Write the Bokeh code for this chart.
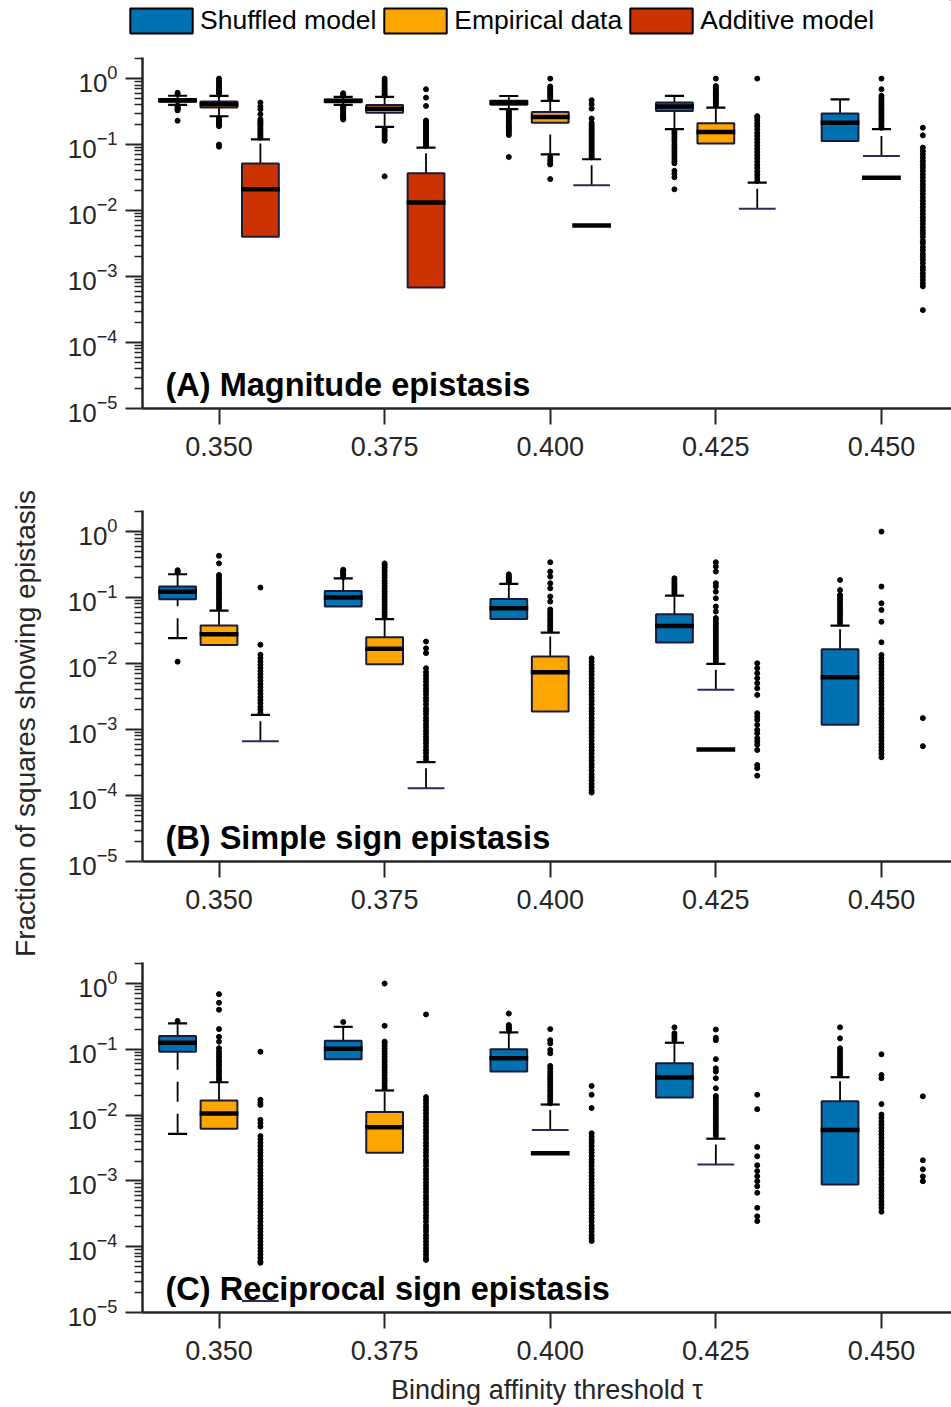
import math
from bokeh.plotting import figure
from bokeh.models import ColumnDataSource, FixedTicker, Range1d, Label, Legend, LegendItem
from bokeh.layouts import column, row
from bokeh.embed import file_html
from bokeh.resources import INLINE

# ---------------- data ----------------
thresholds = ["0.350", "0.375", "0.400", "0.425", "0.450"]
series_names = ["Shuffled model", "Empirical data", "Additive model"]
series_colors = ["#0072B2", "#FFA500", "#CC3300"]
panel_titles = ["(A) Magnitude epistasis", "(B) Simple sign epistasis", "(C) Reciprocal sign epistasis"]

# Panel A (magnitude epistasis); 0 = value is zero (not drawable on log axis)
A_shuf_lo = [0.40, 0.40, 0.345, 0.171, 0.113]
A_shuf_q1 = [0.445, 0.44, 0.40, 0.324, 0.113]
A_shuf_med = [0.47, 0.46, 0.435, 0.377, 0.215]
A_shuf_q3 = [0.49, 0.48, 0.46, 0.433, 0.295]
A_shuf_hi = [0.55, 0.53, 0.545, 0.546, 0.486]
A_shuf_out = [
    [0.58, 0.61, 0.39, 0.375, 0.36, 0.35, 0.34, 0.33, 0.23],
    [0.56, 0.585, 0.60, 0.38, 0.365, 0.35, 0.335, 0.32, 0.305, 0.29, 0.28, 0.27, 0.26, 0.25, 0.24],
    [0.33, 0.31, 0.29, 0.275, 0.26, 0.245, 0.23, 0.215, 0.2, 0.19, 0.18, 0.17, 0.16, 0.15, 0.14, 0.065],
    [0.16, 0.15, 0.14, 0.13, 0.12, 0.11, 0.10, 0.092, 0.085, 0.078, 0.072, 0.066, 0.061, 0.056, 0.052,
     0.040, 0.036, 0.032, 0.021],
    [],
]
A_emp_lo = [0.269, 0.185, 0.071, 0.104, 0]
A_emp_q1 = [0.364, 0.305, 0.215, 0.104, 0]
A_emp_med = [0.41, 0.35, 0.262, 0.155, 0.0313]
A_emp_q3 = [0.449, 0.399, 0.312, 0.211, 0.067]
A_emp_hi = [0.546, 0.527, 0.459, 0.364, 0.171]
A_emp_out = [
    [1.0, 0.92, 0.86, 0.81, 0.76, 0.71, 0.67, 0.63, 0.6, 0.25, 0.24, 0.23, 0.22, 0.21, 0.2, 0.19, 0.1, 0.093],
    [1.0, 0.93, 0.87, 0.81, 0.76, 0.71, 0.66, 0.62, 0.58, 0.55, 0.17, 0.16, 0.15, 0.14, 0.13, 0.12, 0.114, 0.033],
    [1.0, 0.76, 0.72, 0.68, 0.64, 0.6, 0.57, 0.54, 0.5, 0.064, 0.058, 0.053, 0.05, 0.030],
    [1.0, 0.77, 0.73, 0.69, 0.65, 0.61, 0.58, 0.55, 0.52, 0.49, 0.46, 0.44, 0.415, 0.39],
    [1.0, 0.69, 0.55, 0.51, 0.47, 0.44, 0.41, 0.38, 0.35, 0.33, 0.31, 0.29, 0.27, 0.25, 0.235, 0.22,
     0.205, 0.19, 0.18],
]
A_add_lo = [0.004, 0.00068, 0, 0, 0]
A_add_q1 = [0.004, 0.00068, 0, 0, 0]
A_add_med = [0.021, 0.0132, 0.00593, 0, 0]
A_add_q3 = [0.0515, 0.0368, 0.0242, 0.0107, 0]
A_add_hi = [0.12, 0.090, 0.060, 0.0266, 0]
A_add_out = [
    [0.127, 0.134, 0.142, 0.15, 0.159, 0.168, 0.178, 0.19, 0.2, 0.21, 0.22, 0.23, 0.242, 0.288, 0.343,
     0.377, 0.433],
    [0.095, 0.1, 0.106, 0.112, 0.119, 0.126, 0.134, 0.142, 0.15, 0.159, 0.168, 0.178, 0.19, 0.2, 0.21,
     0.22, 0.232, 0.385, 0.515, 0.69],
    [0.064, 0.068, 0.072, 0.077, 0.082, 0.087, 0.093, 0.099, 0.106, 0.113, 0.12, 0.128, 0.136, 0.145,
     0.155, 0.165, 0.176, 0.188, 0.2, 0.215, 0.248, 0.351, 0.41, 0.47],
    [0.028, 0.0315, 0.035, 0.039, 0.044, 0.049, 0.055, 0.062, 0.069, 0.077, 0.086, 0.096, 0.108, 0.12,
     0.135, 0.15, 0.17, 0.19, 0.21, 0.235, 0.26, 0.27, 1.0],
    [0.18, 0.138, 0.09, 0.08, 0.071, 0.063, 0.056, 0.05, 0.045, 0.04, 0.0355, 0.0316, 0.028, 0.025,
     0.0224, 0.02, 0.0178, 0.0158, 0.0141, 0.0126, 0.0112, 0.01, 0.0089, 0.0079, 0.0071, 0.0063, 0.0056,
     0.005, 0.0045, 0.004, 0.0035, 0.0032, 0.0028, 0.0025, 0.0022, 0.002, 0.0018, 0.0016, 0.0014,
     0.00126, 0.00112, 0.001, 0.00089, 0.00079, 0.00071, 0.00031],
]

# Panel B (simple sign epistasis)
B_shuf_lo = [0.0243, 0.073, 0.0475, 0.0209, 0.00118]
B_shuf_q1 = [0.094, 0.073, 0.0475, 0.0209, 0.00118]
B_shuf_med = [0.123, 0.1, 0.0688, 0.0372, 0.0062]
B_shuf_q3 = [0.147, 0.126, 0.0955, 0.056, 0.0165]
B_shuf_hi = [0.226, 0.196, 0.161, 0.107, 0.0377]
B_shuf_out = [
    [0.24, 0.25, 0.26, 0.0107],
    [0.205, 0.215, 0.225, 0.235, 0.245, 0.255, 0.265],
    [0.17, 0.18, 0.19, 0.2, 0.21, 0.225],
    [0.116, 0.124, 0.132, 0.14, 0.15, 0.16, 0.17, 0.183, 0.196],
    [0.041, 0.045, 0.05, 0.055, 0.06, 0.066, 0.072, 0.079, 0.087, 0.095, 0.104, 0.11, 0.13, 0.185],
]
B_emp_lo = [0.0192, 0.0098, 0.00187, 0, 0]
B_emp_q1 = [0.0192, 0.0098, 0.00187, 0, 0]
B_emp_med = [0.0278, 0.0167, 0.0074, 0.000498, 0]
B_emp_q3 = [0.0377, 0.0251, 0.0128, 0.0040, 0]
B_emp_hi = [0.0636, 0.047, 0.0295, 0.0099, 0]
B_emp_out = [
    [0.069, 0.075, 0.082, 0.09, 0.098, 0.107, 0.117, 0.128, 0.14, 0.153, 0.167, 0.183, 0.2, 0.22, 0.33, 0.43],
    [0.05, 0.055, 0.06, 0.066, 0.072, 0.079, 0.087, 0.095, 0.104, 0.114, 0.125, 0.137, 0.15, 0.165, 0.18,
     0.2, 0.22, 0.24, 0.26, 0.285, 0.31, 0.33],
    [0.032, 0.035, 0.038, 0.042, 0.046, 0.05, 0.055, 0.06, 0.066, 0.087, 0.104, 0.138, 0.165, 0.208,
     0.248, 0.343],
    [0.0107, 0.0117, 0.0128, 0.014, 0.0153, 0.0167, 0.0183, 0.02, 0.022, 0.024, 0.0262, 0.0287, 0.0314,
     0.0343, 0.0375, 0.041, 0.045, 0.049, 0.0614, 0.0731, 0.0976, 0.123, 0.147, 0.165, 0.248, 0.295, 0.343],
    [1.0, 0.147, 0.082, 0.065, 0.043, 0.021, 0.0135, 0.012, 0.0107, 0.0095, 0.0085, 0.0076, 0.0068, 0.006,
     0.0054, 0.0048, 0.0043, 0.0038, 0.0034, 0.003, 0.0027, 0.0024, 0.0021, 0.0019, 0.0017, 0.0015,
     0.00135, 0.0012, 0.00107, 0.00095, 0.00085, 0.00076, 0.00068, 0.0006, 0.00054, 0.00048, 0.00043,
     0.00038],
]
B_add_lo = [0, 0, 0, 0, 0]
B_add_q1 = [0, 0, 0, 0, 0]
B_add_med = [0, 0, 0, 0, 0]
B_add_q3 = [0.000665, 0.000129, 0, 0, 0]
B_add_hi = [0.00167, 0.00032, 0, 0, 0]
B_add_out = [
    [0.00178, 0.002, 0.0022, 0.0025, 0.0028, 0.0031, 0.0035, 0.0039, 0.0044, 0.0049, 0.0055, 0.0062,
     0.0069, 0.0077, 0.0086, 0.0096, 0.0108, 0.0121, 0.0136, 0.0193, 0.142],
    [0.00035, 0.00039, 0.00044, 0.00049, 0.00055, 0.00062, 0.00069, 0.00077, 0.00086, 0.00096, 0.00108,
     0.0012, 0.00135, 0.0015, 0.0017, 0.0019, 0.0021, 0.0024, 0.0027, 0.003, 0.0034, 0.0038, 0.0042,
     0.0047, 0.0053, 0.0059, 0.0066, 0.0074, 0.0085, 0.0144, 0.017, 0.0216],
    [0.012, 0.0107, 0.0095, 0.0085, 0.0076, 0.0068, 0.006, 0.0054, 0.0048, 0.0043, 0.0038, 0.0034, 0.003,
     0.0027, 0.0024, 0.0021, 0.0019, 0.0017, 0.0015, 0.00135, 0.0012, 0.00107, 0.00095, 0.00085, 0.00076,
     0.00068, 0.0006, 0.00054, 0.00048, 0.00043, 0.00038, 0.00034, 0.0003, 0.00027, 0.00024, 0.00021,
     0.00019, 0.00017, 0.00015, 0.000135, 0.00012, 0.000111],
    [0.0101, 0.0085, 0.00714, 0.006, 0.00504, 0.00423, 0.00335, 0.00177, 0.00157, 0.0014, 0.00118,
     0.00099, 0.00088, 0.00074, 0.00066, 0.00059, 0.00049, 0.00029, 0.00026, 0.0002],
    [0.00149, 0.00056],
]

# Panel C (reciprocal sign epistasis)
C_shuf_lo = [0.0052, 0.0707, 0.0459, 0.0186, 0.00088]
C_shuf_q1 = [0.092, 0.0707, 0.0459, 0.0186, 0.00088]
C_shuf_med = [0.126, 0.102, 0.073, 0.0372, 0.00593]
C_shuf_q3 = [0.159, 0.135, 0.1, 0.0612, 0.0162]
C_shuf_hi = [0.248, 0.22, 0.181, 0.126, 0.0377]
C_shuf_out = [
    [0.27],
    [0.26],
    [0.19, 0.2, 0.21, 0.22, 0.235, 0.35],
    [0.139, 0.15, 0.162, 0.175, 0.216],
    [0.041, 0.045, 0.049, 0.054, 0.059, 0.065, 0.071, 0.078, 0.086, 0.094, 0.104, 0.147, 0.216],
]
C_emp_lo = [0.0062, 0.00267, 0, 0, 0]
C_emp_q1 = [0.0062, 0.00267, 0, 0, 0]
C_emp_med = [0.0106, 0.00652, 0.00263, 0, 0]
C_emp_q3 = [0.0167, 0.0112, 0.00593, 0.00177, 0]
C_emp_hi = [0.0316, 0.0237, 0.0145, 0.00438, 0]
C_emp_out = [
    [0.0335, 0.0365, 0.04, 0.044, 0.048, 0.053, 0.058, 0.064, 0.07, 0.077, 0.085, 0.093, 0.104, 0.131,
     0.155, 0.203, 0.40, 0.51, 0.69],
    [0.0257, 0.028, 0.031, 0.034, 0.037, 0.041, 0.045, 0.049, 0.054, 0.059, 0.065, 0.071, 0.078, 0.086,
     0.094, 0.103, 0.113, 0.124, 0.131, 0.228, 1.0],
    [0.0152, 0.0167, 0.0183, 0.02, 0.022, 0.024, 0.0265, 0.029, 0.032, 0.035, 0.038, 0.042, 0.046, 0.051,
     0.056, 0.087, 0.098, 0.123, 0.138, 0.203],
    [0.0048, 0.0053, 0.0058, 0.0064, 0.007, 0.0077, 0.0085, 0.0093, 0.0102, 0.0112, 0.0123, 0.0135,
     0.0148, 0.0163, 0.018, 0.0195, 0.0256, 0.0364, 0.0459, 0.0514, 0.071, 0.138, 0.15, 0.2],
    [0.0839, 0.0408, 0.0364, 0.0147, 0.0102, 0.0091, 0.0081, 0.0072, 0.0064, 0.0057, 0.0051, 0.0045,
     0.004, 0.0036, 0.0032, 0.0028, 0.0025, 0.0022, 0.002, 0.0018, 0.0016, 0.0014, 0.00125, 0.0011, 0.001,
     0.00089, 0.00079, 0.0007, 0.00062, 0.00055, 0.00049, 0.00044, 0.00039, 0.00034],
]
C_add_lo = [0, 0, 0, 0, 0]
C_add_q1 = [0, 0, 0, 0, 0]
C_add_med = [0, 0, 0, 0, 0]
C_add_q3 = [1.5e-5, 0, 0, 0, 0]
C_add_hi = [1.5e-5, 0, 0, 0, 0]
C_add_out = [
    [0.092, 0.0171, 0.0155, 0.0143, 0.0085, 0.0076, 0.0067, 0.0048, 0.0043, 0.0038, 0.0034, 0.003,
     0.0027, 0.0024, 0.0021, 0.0019, 0.0017, 0.0015, 0.00135, 0.0012, 0.00107, 0.00095, 0.00085, 0.00076,
     0.00068, 0.0006, 0.00054, 0.00048, 0.00043, 0.00038, 0.00034, 0.0003, 0.00027, 0.00024, 0.00021,
     0.00019, 0.00017, 0.00015, 0.000135, 0.00012, 0.000107, 0.000095, 0.000085, 0.000076, 0.000068,
     0.00006, 0.000057],
    [0.339, 0.0188, 0.0168, 0.015, 0.0134, 0.012, 0.0107, 0.0095, 0.0085, 0.0076, 0.0068, 0.006, 0.0054,
     0.0048, 0.0043, 0.0038, 0.0034, 0.003, 0.0027, 0.0024, 0.0021, 0.0019, 0.0017, 0.0015, 0.00135,
     0.0012, 0.00107, 0.00095, 0.00085, 0.00076, 0.00068, 0.0006, 0.00054, 0.00048, 0.00043, 0.00038,
     0.00034, 0.0003, 0.00027, 0.00024, 0.00021, 0.00019, 0.00017, 0.00015, 0.000135, 0.00012, 0.000107,
     0.000095, 0.000085, 0.000076, 0.000068, 0.000063],
    [0.0278, 0.0204, 0.0128, 0.0053, 0.0047, 0.0042, 0.0038, 0.0034, 0.003, 0.0027, 0.0024, 0.0021,
     0.0019, 0.0017, 0.0015, 0.00135, 0.0012, 0.00107, 0.00095, 0.00085, 0.00076, 0.00068, 0.0006,
     0.00054, 0.00048, 0.00043, 0.00038, 0.00034, 0.0003, 0.00027, 0.00024, 0.00021, 0.00019, 0.00017,
     0.00015, 0.000135, 0.000122],
    [0.0204, 0.0123, 0.00327, 0.00237, 0.00173, 0.00141, 0.00118, 0.00099, 0.00083, 0.00066, 0.00039,
     0.00029, 0.000245],
    [0.0193, 0.00206, 0.0015, 0.00117, 0.00099],
]

# ---------------- style ----------------
FONT = "Liberation Sans"
AX = "#262626"
EDGE = "#1a1a3a"
BW = 0.222      # box width (category units)
CW = 0.115      # whisker cap width
OFFS = [-0.25, 0.0, 0.25]
Y_BOT, Y_TOP = 1e-5, 10 ** 0.32
X_LO, X_HI = -0.462, 4.423
LW = 50          # width of the strip holding the shared y label
MAIN_W = 951 - LW
FRAME_LEFT = 142  # page x of the plot frames' left edge
LEG_H = 57


def make_fig(height, top, bottom):
    p = figure(width=MAIN_W, height=height, output_backend="svg", toolbar_location=None,
               y_axis_type="log", x_range=Range1d(X_LO, X_HI), y_range=Range1d(Y_BOT, Y_TOP),
               min_border_left=FRAME_LEFT - LW, min_border_right=0, min_border_top=top,
               min_border_bottom=bottom)
    p.outline_line_color = None
    p.grid.visible = False
    # x axis
    xa = p.xaxis[0]
    xa.ticker = FixedTicker(ticks=list(range(len(thresholds))))
    xa.major_label_overrides = {i: t for i, t in enumerate(thresholds)}
    xa.major_tick_out = 16
    xa.major_tick_in = 0
    xa.minor_tick_out = 0
    xa.minor_tick_in = 0
    xa.axis_line_width = 2.5
    xa.axis_line_color = AX
    xa.major_tick_line_color = AX
    xa.major_tick_line_width = 2
    xa.major_label_text_font = FONT
    xa.major_label_text_font_size = "27px"
    xa.major_label_text_color = AX
    xa.major_label_standoff = 12
    # y axis
    ya = p.yaxis[0]
    majors = [10.0 ** e for e in range(-5, 1)]
    minors = [m * 10.0 ** e for e in range(-5, 1) for m in range(2, 10) if m * 10.0 ** e <= Y_TOP]
    ya.ticker = FixedTicker(ticks=majors, minor_ticks=minors)
    ya.major_tick_out = 17
    ya.major_tick_in = 0
    ya.minor_tick_out = 8
    ya.minor_tick_in = 0
    ya.axis_line_width = 2.5
    ya.axis_line_color = AX
    ya.major_tick_line_color = AX
    ya.minor_tick_line_color = AX
    ya.major_tick_line_width = 2
    ya.minor_tick_line_width = 1.5
    ya.major_label_text_font = FONT
    ya.major_label_text_font_size = "26px"
    ya.major_label_text_color = AX
    ya.major_label_standoff = 8
    return p


def draw_panel(p, groups):
    boxes = []
    for s, (lo, q1, med, q3, hi, outs) in enumerate(groups):
        color = series_colors[s]
        xs = [i + OFFS[s] for i in range(len(thresholds))]
        wx, wy0, wy1, cx0, cx1, cy = [], [], [], [], [], []
        for i, x in enumerate(xs):
            if q3[i] > 0 and hi[i] > q3[i]:
                wx.append(x); wy0.append(q3[i]); wy1.append(hi[i])
                cx0.append(x - CW / 2); cx1.append(x + CW / 2); cy.append(hi[i])
            if lo[i] > 0 and lo[i] < q1[i]:
                wx.append(x); wy0.append(lo[i]); wy1.append(q1[i])
                cx0.append(x - CW / 2); cx1.append(x + CW / 2); cy.append(lo[i])
        p.segment(x0=wx, y0=wy0, x1=wx, y1=wy1, line_color="black", line_width=1.8, line_dash="20 12")
        p.segment(x0=cx0, y0=cy, x1=cx1, y1=cy, line_color="black", line_width=2.2)
        bsrc = ColumnDataSource(dict(
            x=[x for i, x in enumerate(xs) if q1[i] > 0],
            b=[q1[i] for i in range(len(xs)) if q1[i] > 0],
            t=[q3[i] for i in range(len(xs)) if q1[i] > 0]))
        r = p.vbar(x="x", width=BW, bottom="b", top="t", source=bsrc,
                   fill_color=color, line_color=EDGE, line_width=2)
        boxes.append(r)
        # collapsed boxes (lower quartile is zero): only the upper edge shows
        ex = [x for i, x in enumerate(xs) if q1[i] <= 0 and q3[i] > 0]
        ey = [q3[i] for i in range(len(xs)) if q1[i] <= 0 and q3[i] > 0]
        p.segment(x0=[x - BW / 2 for x in ex], y0=ey, x1=[x + BW / 2 for x in ex], y1=ey,
                  line_color="#2a2a5a", line_width=2)
        mx = [x for i, x in enumerate(xs) if med[i] > 0]
        my = [med[i] for i in range(len(xs)) if med[i] > 0]
        p.segment(x0=[x - BW / 2 - 0.006 for x in mx], y0=my, x1=[x + BW / 2 + 0.006 for x in mx], y1=my,
                  line_color="black", line_width=4.5)
        ox = [xs[i] for i in range(len(xs)) for _ in outs[i]]
        oy = [v for i in range(len(xs)) for v in outs[i]]
        p.scatter(x=ox, y=oy, size=5, color="black", marker="circle")
    return boxes


def add_title(p, text):
    p.add_layout(Label(x=-0.323, y=10 ** -4.65, text=text, text_font=FONT, text_font_size="32.5px",
                       text_font_style="bold", text_color="black", text_baseline="middle"))


# legend strip across the whole top; swatch renderers hold one point far outside the visible range
pL = figure(width=951, height=LEG_H, output_backend="svg", toolbar_location=None,
            x_range=Range1d(0, 1), y_range=Range1d(0, 1), x_axis_location=None, y_axis_location=None,
            min_border_left=0, min_border_right=0, min_border_top=0, min_border_bottom=0)
pL.outline_line_color = None
pL.grid.visible = False
leg_rs = [pL.vbar(x=[50], width=0.1, bottom=[50], top=[51], fill_color=c, line_color="black",
                  line_width=2) for c in series_colors]
legend = Legend(items=[LegendItem(label=n, renderers=[r]) for n, r in zip(series_names, leg_rs)],
                orientation="horizontal", location=(122, 21), glyph_width=78, glyph_height=31,
                label_text_font=FONT, label_text_font_size="26.5px", label_text_color="black",
                label_standoff=0, spacing=0, padding=0, margin=0, label_height=31,
                border_line_color=None, background_fill_alpha=0)
pL.add_layout(legend, "center")

pA = make_fig(480 - LEG_H, 0, 72)
pB = make_fig(478, 30, 97)
pC = make_fig(449, 4, 94)

draw_panel(pA, [
    (A_shuf_lo, A_shuf_q1, A_shuf_med, A_shuf_q3, A_shuf_hi, A_shuf_out),
    (A_emp_lo, A_emp_q1, A_emp_med, A_emp_q3, A_emp_hi, A_emp_out),
    (A_add_lo, A_add_q1, A_add_med, A_add_q3, A_add_hi, A_add_out)])
draw_panel(pB, [
    (B_shuf_lo, B_shuf_q1, B_shuf_med, B_shuf_q3, B_shuf_hi, B_shuf_out),
    (B_emp_lo, B_emp_q1, B_emp_med, B_emp_q3, B_emp_hi, B_emp_out),
    (B_add_lo, B_add_q1, B_add_med, B_add_q3, B_add_hi, B_add_out)])
draw_panel(pC, [
    (C_shuf_lo, C_shuf_q1, C_shuf_med, C_shuf_q3, C_shuf_hi, C_shuf_out),
    (C_emp_lo, C_emp_q1, C_emp_med, C_emp_q3, C_emp_hi, C_emp_out),
    (C_add_lo, C_add_q1, C_add_med, C_add_q3, C_add_hi, C_add_out)])

for p, t in zip([pA, pB, pC], panel_titles):
    add_title(p, t)

pC.xaxis[0].axis_label = "Binding affinity threshold τ"
pC.xaxis[0].axis_label_text_font = FONT
pC.xaxis[0].axis_label_text_font_size = "27px"
pC.xaxis[0].axis_label_text_font_style = "normal"
pC.xaxis[0].axis_label_text_color = AX
pC.xaxis[0].axis_label_standoff = 12

# shared y label strip (left)
YS_H = 1407 - LEG_H
pY = figure(width=LW, height=YS_H, output_backend="svg", toolbar_location=None,
            x_range=Range1d(0, LW), y_range=Range1d(YS_H, 0), x_axis_location=None, y_axis_location=None,
            min_border_left=0, min_border_right=0, min_border_top=0, min_border_bottom=0)
pY.outline_line_color = None
pY.grid.visible = False
pY.add_layout(Label(x=25, y=723 - LEG_H, text="Fraction of squares showing epistasis",
                    angle=math.pi / 2, text_align="center", text_baseline="middle",
                    text_font=FONT, text_font_size="28px", text_color=AX))

layout = column(pL, row(pY, column(pA, pB, pC, spacing=0), spacing=0), spacing=0)
open("out.html", "w").write(file_html(layout, INLINE))
